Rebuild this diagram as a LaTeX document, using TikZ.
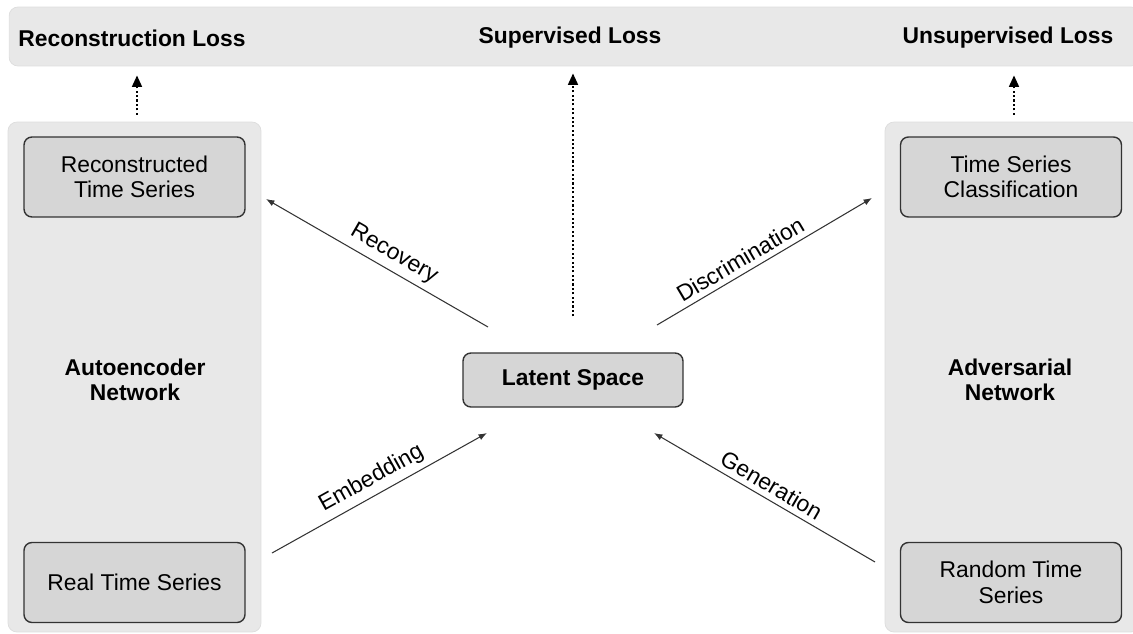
\documentclass[tikz,border=0pt]{standalone}
\usepackage{fontspec}
\setmainfont{Liberation Sans}
\usetikzlibrary{arrows.meta}
\definecolor{panelgray}{HTML}{E8E8E8}
\definecolor{rimgray}{HTML}{DDDDDD}
\definecolor{unitgray}{HTML}{D6D6D6}
\definecolor{edgegray}{HTML}{333333}

\begin{document}
\begin{tikzpicture}[x=0.02cm, y=-0.02cm, font=\fontsize{13}{14.5}\selectfont,
    panel/.style={fill=panelgray, draw=rimgray, line width=0.4pt, rounded corners=5pt, inner sep=0pt},
    unit/.style={fill=unitgray, draw=edgegray, line width=0.8pt, rounded corners=4.5pt,
      align=center, minimum width=4.42cm, minimum height=1.6cm, inner sep=0pt},
    title/.style={font=\fontsize{13}{14.5}\selectfont\bfseries, align=center},
    flow/.style={line width=0.6pt, draw=edgegray},
    lossflow/.style={-{Triangle[length=6.5pt,width=5.5pt]}, line width=1.3pt, dash pattern=on 1.2pt off 1.3pt}]
    \useasboundingbox (0,0) rectangle (1133,633);
    % background panels
    \node[panel, minimum width=22.62cm, minimum height=1.18cm] (lossbar) at (574.5,36.5) {};
    \node[panel, minimum width=5.06cm, minimum height=10.2cm] (autopanel) at (134.5,377) {};
    \node[panel, minimum width=5.1cm, minimum height=10.2cm] (advpanel) at (1012.5,377) {};
    % losses
    \node[title] (recloss) at (132,38) {Reconstruction Loss};
    \node[title] (suploss) at (570,38) {Supervised Loss};
    \node[title] (unsuploss) at (1008,38) {Unsupervised Loss};
    \node[title] (autolabel) at (135,380) {Autoencoder\\Network};
    \node[title] (advlabel) at (1010,380) {Adversarial\\Network};
    % units
    \node[unit] (recon) at (134.5,177) {Reconstructed\\Time Series};
    \node[unit] (real) at (134.5,582.5) {Real Time Series};
    \node[unit] (classif) at (1011,177) {Time Series\\Classification};
    \node[unit] (random) at (1011,582.5) {Random Time\\Series};
    \node[unit, minimum width=4.4cm, minimum height=1.08cm, font=\fontsize{13}{14.5}\selectfont\bfseries] (latent) at (573,380) {Latent Space};
    % loss arrows
    \draw[lossflow, shorten <=0.14cm, shorten >=0.18cm] ([xshift=0.05cm]autopanel.north) -- ([xshift=0.05cm]autopanel.north |- lossbar.south);
    \draw[lossflow, shorten <=0.72cm, shorten >=0.14cm] (latent.north) -- (latent.north |- lossbar.south);
    \draw[lossflow, shorten <=0.14cm, shorten >=0.18cm] ([xshift=0.03cm]advpanel.north) -- ([xshift=0.03cm]advpanel.north |- lossbar.south);
    % flow ends
    \coordinate (recA) at (266,199);
    \coordinate (recB) at (488,327);
    \coordinate (embA) at (272,553);
    \coordinate (embB) at (487,433);
    \coordinate (disA) at (657,325);
    \coordinate (disB) at (872,198);
    \coordinate (genA) at (654,433);
    \coordinate (genB) at (875,562);
    \draw[flow, {Latex[length=4.8pt,width=3.6pt]}-] (recA) -- node[sloped, above, pos=0.54, inner sep=3pt] {Recovery} (recB);
    \draw[flow, -{Latex[length=4.8pt,width=3.6pt]}] (embA) -- node[sloped, above, pos=0.5, inner sep=3pt] {Embedding} (embB);
    \draw[flow, -{Latex[length=4.8pt,width=3.6pt]}] (disA) -- node[sloped, above, pos=0.42, inner sep=3pt] {Discrimination} (disB);
    \draw[flow, {Latex[length=4.8pt,width=3.6pt]}-] (genA) -- node[sloped, above, pos=0.5, inner sep=3pt] {Generation} (genB);
\end{tikzpicture}
\end{document}
